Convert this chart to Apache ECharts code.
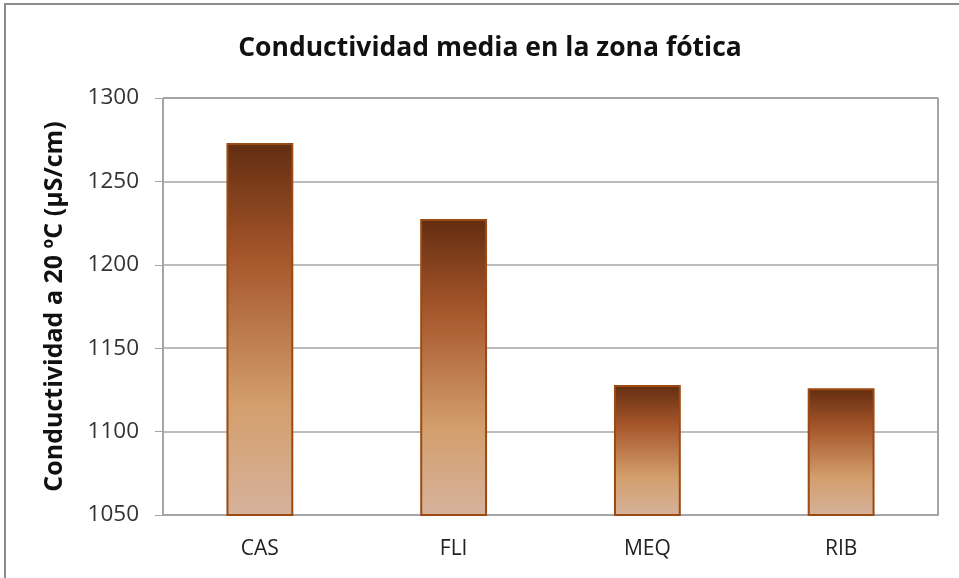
<!DOCTYPE html>
<html>
<head>
<meta charset="utf-8">
<script src="https://cdn.jsdelivr.net/npm/echarts@6/dist/echarts.min.js"></script>
<style>
  html, body { margin: 0; padding: 0; background: #fff; }
  #chart { width: 959px; height: 578px; }
</style>
</head>
<body>
<div id="chart"></div>
<script>
// data
const sites = ["CAS", "FLI", "MEQ", "RIB"];
const conductivity = [1273, 1227.5, 1128, 1126];
const yTicks = [1050, 1100, 1150, 1200, 1250, 1300];

const chart = echarts.init(document.getElementById("chart"));

// dark brown at the top fading to a pale tan at the base
const barFill = new echarts.graphic.LinearGradient(0, 0, 0, 1, [
  { offset: 0, color: "#622d11" },
  { offset: 0.3, color: "#a5552a" },
  { offset: 0.7, color: "#d39e6c" },
  { offset: 1, color: "#d6b29c" },
]);

chart.setOption({
  animation: false,
  textStyle: { fontFamily: "Open Sans" },
  title: {
    text: "Conductividad media en la zona fótica",
    left: 485,
    textAlign: "center",
    top: 30,
    textStyle: { fontFamily: "Open Sans", fontSize: 26.5, fontWeight: "bold", color: "#111" },
  },
  graphic: [
    {
      type: "rect",
      shape: { x: 5, y: 4, width: 1000, height: 1000 },
      style: { fill: "none", stroke: "#8c8c8c", lineWidth: 2 },
    },
  ],
  grid: {
    left: 163,
    right: 21,
    top: 98,
    bottom: 63,
    show: true,
    borderColor: "#4a4a4a",
    borderWidth: 1,
  },
  xAxis: {
    type: "category",
    data: sites,
    axisLine: { lineStyle: { color: "#a6a6a6", width: 2 } },
    axisTick: { show: false },
    axisLabel: { fontSize: 21, color: "#222", margin: 24 },
  },
  yAxis: {
    type: "value",
    min: yTicks[0],
    max: yTicks[yTicks.length - 1],
    interval: 50,
    name: "Conductividad a 20 ºC (µS/cm)",
    nameLocation: "middle",
    nameGap: 96,
    nameTextStyle: { fontSize: 25, fontWeight: "bold", color: "#111" },
    axisLine: { show: true, lineStyle: { color: "#a6a6a6" } },
    axisTick: { show: true, length: 8, lineStyle: { color: "#a6a6a6" } },
    axisLabel: { fontSize: 22.5, color: "#333", margin: 24, formatter: (v) => String(v) },
    splitLine: { lineStyle: { color: "#a6a6a6", width: 1.5 } },
  },
  series: [
    {
      type: "bar",
      data: conductivity,
      barWidth: "34.5%",
      itemStyle: { color: barFill, borderColor: "#9a4a12", borderWidth: 2 },
    },
  ],
});
</script>
</body>
</html>
